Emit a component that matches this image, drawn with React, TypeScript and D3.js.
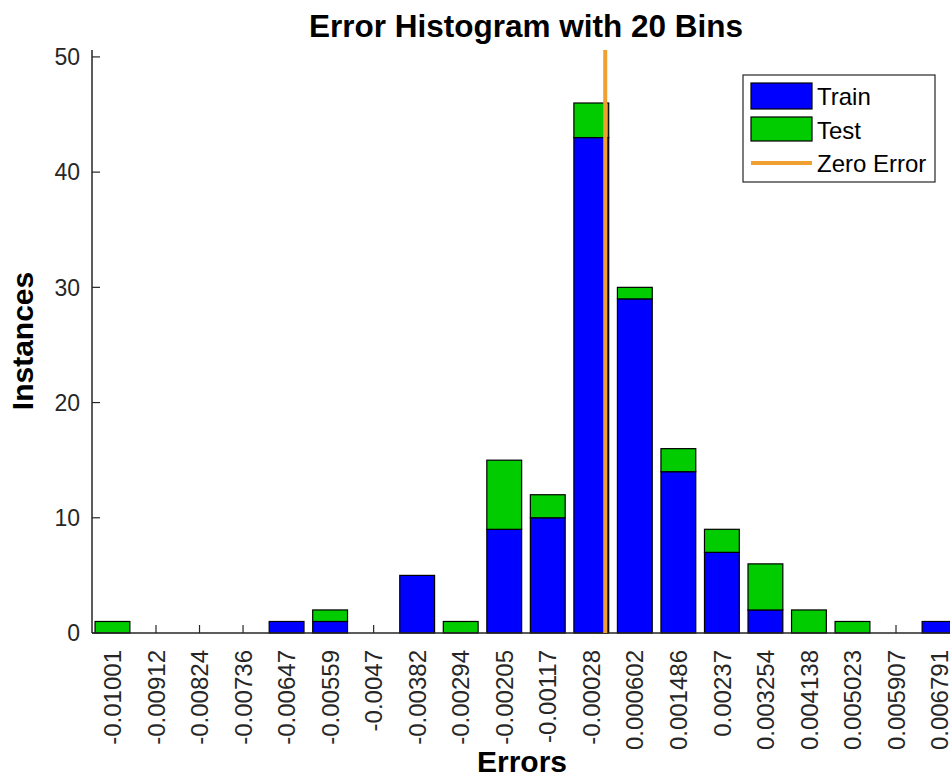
import { scaleBand, scaleLinear } from "d3";

// bin centres as printed under the bars
const binLabels = [
  "-0.01001", "-0.00912", "-0.00824", "-0.00736", "-0.00647",
  "-0.00559", "-0.0047", "-0.00382", "-0.00294", "-0.00205",
  "-0.00117", "-0.00028", "0.000602", "0.001486", "0.00237",
  "0.003254", "0.004138", "0.005023", "0.005907", "0.006791",
];
const trainCounts = [0, 0, 0, 0, 1, 1, 0, 5, 0, 9, 10, 43, 29, 14, 7, 2, 0, 0, 0, 1];
const testCounts = [1, 0, 0, 0, 0, 1, 0, 0, 1, 6, 2, 3, 1, 2, 2, 4, 2, 1, 0, 0];
const yTicks = [0, 10, 20, 30, 40, 50];
const legendItems = ["Train", "Test", "Zero Error"];

const BLUE = "#0000ff";
const GREEN = "#00cc00";
const ORANGE = "#f0a030";
const INK = "#262626";
const FONT = "'Liberation Sans', Arial, Helvetica, sans-serif";

export default function App() {
  const width = 950;
  const height = 778;
  const left = 92;
  const bottom = 633;
  const top = 50;

  const x = scaleBand<string>().domain(binLabels).range([left, 960]).paddingInner(0.2).paddingOuter(0.07);
  const y = scaleLinear().domain([0, 50.6]).range([bottom, top]);
  const bw = x.bandwidth();
  const centre = (l: string) => (x(l) ?? 0) + bw / 2;

  // value axis for the zero-error line, built on the bin centres
  const xVal = scaleLinear()
    .domain([parseFloat(binLabels[0]), parseFloat(binLabels[binLabels.length - 1])])
    .range([centre(binLabels[0]), centre(binLabels[binLabels.length - 1])]);

  return (
    <svg
      width={width}
      height={height}
      style={{ position: "absolute", left: 0, top: 0, background: "#fff" }}
      fontFamily={FONT}
    >
      <text x={526} y={37} textAnchor="middle" fontSize={31.5} fontWeight="bold" fill="#000">
        Error Histogram with 20 Bins
      </text>

      {/* x ticks, hidden under bars where there is data */}
      {binLabels.map((l) => (
        <line key={`t${l}`} x1={centre(l)} x2={centre(l)} y1={bottom} y2={bottom - 8} stroke={INK} strokeWidth={1.2} />
      ))}

      {binLabels.map((l, i) => {
        const tr = trainCounts[i];
        const te = testCounts[i];
        return (
          <g key={l}>
            {tr > 0 && (
              <rect x={x(l)} y={y(tr)} width={bw} height={y(0) - y(tr)} fill={BLUE} stroke="#000" strokeWidth={1.2} />
            )}
            {te > 0 && (
              <rect x={x(l)} y={y(tr + te)} width={bw} height={y(tr) - y(tr + te)} fill={GREEN} stroke="#000" strokeWidth={1.2} />
            )}
          </g>
        );
      })}

      {/* axes */}
      <line x1={left} x2={width} y1={bottom} y2={bottom} stroke={INK} strokeWidth={1.5} />
      <line x1={left} x2={left} y1={top} y2={bottom} stroke={INK} strokeWidth={1.5} />
      {yTicks.map((t) => (
        <g key={t}>
          <line x1={left} x2={left + 8} y1={y(t)} y2={y(t)} stroke={INK} strokeWidth={1.2} />
          <text x={80} y={y(t)} dy="0.36em" textAnchor="end" fontSize={23} fill={INK}>
            {t}
          </text>
        </g>
      ))}
      {binLabels.map((l) => (
        <text
          key={`l${l}`}
          transform={`translate(${centre(l)},${bottom + 17}) rotate(-90)`}
          dy="0.36em"
          textAnchor="end"
          fontSize={24}
          fill={INK}
        >
          {l}
        </text>
      ))}

      {/* zero error line */}
      <line x1={xVal(0)} x2={xVal(0)} y1={top} y2={bottom} stroke={ORANGE} strokeWidth={4} />

      <text x={522} y={772} textAnchor="middle" fontSize={30} fontWeight="bold" fill="#000">
        Errors
      </text>
      <text transform={`translate(33,341) rotate(-90)`} textAnchor="middle" fontSize={30} fontWeight="bold" fill="#000">
        Instances
      </text>

      {/* legend */}
      <g>
        <rect x={743} y={75} width={192} height={107} fill="#fff" stroke={INK} strokeWidth={1.2} />
        <rect x={751} y={83} width={61} height={26} fill={BLUE} stroke="#000" strokeWidth={1.2} />
        <rect x={751} y={117} width={61} height={24} fill={GREEN} stroke="#000" strokeWidth={1.2} />
        <line x1={751} x2={812} y1={163} y2={163} stroke={ORANGE} strokeWidth={4} />
        {legendItems.map((name, i) => (
          <text key={name} x={817} y={[96, 130, 163][i]} dy="0.36em" fontSize={24} fill="#000">
            {name}
          </text>
        ))}
      </g>
    </svg>
  );
}
